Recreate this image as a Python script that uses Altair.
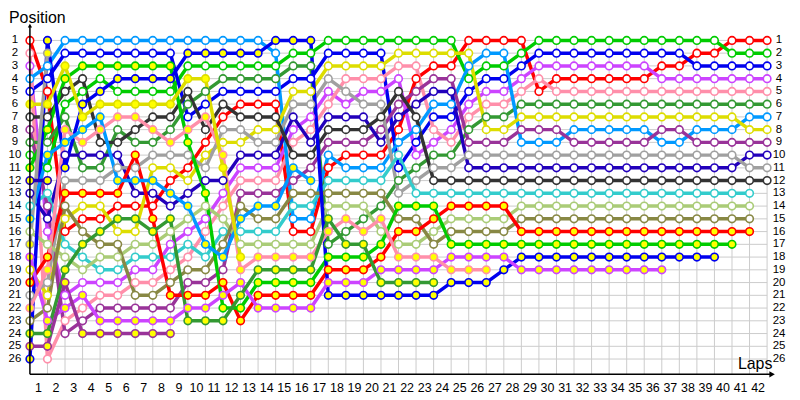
import altair as alt
import pandas as pd

# ---------------- data (position per lap, lap 0 = grid) ----------------
laps_axis = list(range(1, 43))
positions_axis = list(range(1, 27))

R = [1, 5, 16, 15, 15, 14, 14, 14, 12, 11, 9, 7, 6, 6, 6, 16, 16, 11, 10, 10, 10, 8, 4, 3, 3, 1, 1, 1, 1, 5, 4, 4, 4, 4, 4, 4, 3, 3, 2, 2, 1, 1, 1]
G = [10, 11, 6, 5, 4, 5, 5, 5, 5, 3, 3, 3, 3, 3, 3, 2, 2, 1, 1, 1, 1, 1, 1, 1, 1, 4, 3, 3, 2, 1, 1, 1, 1, 1, 1, 1, 1, 1, 1, 1, 2, 2, 2]
B = [5, 4, 2, 2, 2, 2, 2, 2, 2, 7, 6, 5, 5, 5, 5, 4, 4, 2, 2, 2, 2, 11, 9, 7, 7, 5, 4, 4, 3, 2, 2, 2, 2, 2, 2, 2, 2, 2, 3, 3, 3, 3, 3]
V = [3, 16, 21, 20, 20, 20, 19, 19, 17, 16, 15, 13, 11, 11, 11, 8, 7, 5, 6, 5, 5, 4, 10, 9, 8, 6, 5, 5, 4, 3, 3, 3, 3, 3, 3, 3, 4, 4, 4, 4, 4, 4, 4]
PK = [2, 26, 23, 22, 21, 21, 20, 20, 19, 18, 16, 14, 12, 12, 12, 9, 8, 6, 4, 4, 4, 3, 3, 8, 9, 7, 6, 6, 5, 4, 5, 5, 5, 5, 5, 5, 5, 5, 5, 5, 5, 5, 5]
DG = [9, 9, 7, 11, 11, 8, 9, 9, 8, 6, 5, 4, 4, 4, 4, 3, 3, 17, 16, 15, 14, 12, 11, 10, 10, 8, 7, 7, 6, 6, 6, 6, 6, 6, 6, 6, 6, 6, 6, 6, 6, 6, 6]
SB = [4, 3, 1, 1, 1, 1, 1, 1, 1, 1, 1, 1, 1, 1, 2, 15, 15, 10, 11, 11, 11, 9, 8, 6, 6, 3, 2, 2, 9, 9, 9, 8, 8, 8, 8, 8, 9, 9, 8, 8, 8, 7, 7]
Y = [19, 21, 15, 14, 14, 16, 16, 11, 11, 12, 10, 9, 9, 8, 8, 5, 5, 3, 3, 3, 3, 2, 2, 2, 2, 2, 8, 8, 7, 7, 7, 7, 7, 7, 7, 7, 7, 7, 7, 7, 7, 8, 8]
DP = [8, 14, 24, 23, 22, 22, 22, 22, 22, 20, 20, 19, 13, 13, 13, 12, 11, 9, 9, 9, 8, 6, 5, 4, 4, 9, 9, 9, 8, 8, 8, 9, 9, 9, 9, 9, 8, 8, 9, 9, 9, 9, 9]
N = [13, 15, 10, 10, 10, 10, 13, 13, 14, 13, 12, 12, 10, 10, 10, 7, 9, 7, 7, 7, 9, 7, 6, 5, 5, 11, 11, 11, 11, 11, 11, 11, 11, 11, 11, 11, 11, 11, 11, 11, 11, 10, 10]
GR = [21, 20, 12, 12, 12, 11, 11, 10, 10, 10, 11, 8, 8, 9, 9, 6, 6, 4, 5, 6, 6, 13, 12, 11, 11, 10, 10, 10, 10, 10, 10, 10, 10, 10, 10, 10, 10, 10, 10, 10, 10, 11, 11]
BK = [7, 7, 5, 4, 9, 9, 8, 7, 7, 5, 8, 6, 7, 7, 7, 10, 10, 8, 8, 8, 7, 5, 7, 12, 12, 12, 12, 12, 12, 12, 12, 12, 12, 12, 12, 12, 12, 12, 12, 12, 12, 12, 12]
C = [14, 13, 17, 18, 19, 19, 18, 18, 18, 17, 18, 16, 16, 16, 16, 14, 14, 12, 12, 12, 12, 10, 13, 13, 13, 13, 13, 13, 13, 13, 13, 13, 13, 13, 13, 13, 13, 13, 13, 13, 13, 13]
LO = [16, 17, 18, 19, 18, 18, 17, 17, 16, 15, 14, 15, 17, 17, 17, 17, 17, 14, 14, 14, 16, 17, 17, 16, 15, 15, 15, 15, 14, 14, 14, 14, 14, 14, 14, 14, 14, 14, 14, 14, 14, 14]
O = [23, 22, 14, 16, 17, 17, 21, 21, 20, 19, 19, 17, 14, 15, 15, 13, 13, 13, 13, 13, 13, 15, 15, 17, 16, 16, 16, 16, 15, 15, 15, 15, 15, 15, 15, 15, 15, 15, 15, 15, 15, 15]
r = [20, 18, 13, 13, 13, 13, 10, 15, 21, 21, 21, 20, 23, 21, 21, 21, 21, 19, 19, 19, 18, 16, 16, 15, 14, 14, 14, 14, 16, 16, 16, 16, 16, 16, 16, 16, 16, 16, 16, 16, 16, 16]
g = [11, 8, 4, 3, 3, 3, 3, 3, 3, 9, 13, 22, 22, 20, 20, 20, 20, 18, 18, 18, 17, 14, 14, 14, 17, 17, 17, 17, 17, 17, 17, 17, 17, 17, 17, 17, 17, 17, 17, 17, 17]
b = [26, 1, 11, 6, 5, 4, 4, 4, 4, 2, 2, 2, 2, 2, 1, 1, 1, 21, 21, 21, 21, 21, 21, 21, 20, 20, 20, 19, 18, 18, 18, 18, 18, 18, 18, 18, 18, 18, 18, 18]
v = [18, 23, 22, 21, 23, 23, 23, 23, 23, 22, 22, 21, 20, 22, 22, 22, 22, 20, 20, 20, 19, 19, 19, 19, 18, 18, 18, 18, 19, 19, 19, 19, 19, 19, 19, 19, 19]
pk = [22, 19, 8, 9, 8, 7, 7, 8, 9, 8, 7, 10, 19, 18, 18, 18, 18, 16, 15, 16, 15, 18, 18, 18, 19, 19, 19]
dg = [24, 24, 19, 17, 16, 15, 15, 16, 15, 23, 23, 23, 21, 19, 19, 19, 19, 15, 17, 17, 20, 20, 20, 20]
sb = [15, 10, 9, 8, 7, 12, 12, 12, 13, 14, 17, 18, 15, 14, 14, 11, 12]
y = [6, 6, 3, 7, 6, 6, 6, 6, 6, 4, 4, 11, 18]
dp = [25, 25, 20, 24, 24, 24, 24, 24, 24]
gr = [17, 2]
n = [12, 12]

series = {
    "R": R, "G": G, "B": B, "V": V, "PK": PK, "DG": DG, "SB": SB, "Y": Y,
    "DP": DP, "N": N, "GR": GR, "BK": BK, "C": C, "LO": LO, "O": O,
    "r": r, "g": g, "b": b, "v": v, "pk": pk, "dg": dg, "sb": sb, "y": y,
    "dp": dp, "gr": gr, "n": n,
}

# ---------------- styles ----------------
base_colors = {
    "R": "#FF0000", "G": "#00CC00", "B": "#0000EE", "V": "#CC44FF",
    "PK": "#FF8FAA", "DG": "#339933", "SB": "#0099FF", "Y": "#DDDD00",
    "DP": "#993399", "N": "#2200BB", "GR": "#A0A0A0", "BK": "#333333",
    "C": "#33CCCC", "LO": "#AACC77", "O": "#888844",
}
ids = list(series.keys())
colors = [base_colors[k.upper()] for k in ids]

rows = []
for k, vals in series.items():
    kind = "open" if k.isupper() else "yellow"
    for lap, pos in enumerate(vals):
        rows.append({"driver": k, "lap": lap, "pos": pos, "kind": kind})
df = pd.DataFrame(rows)

W, H = 740, 348
YMAX = 27.2
pos1_px = H / YMAX
FONT = "Liberation Sans"

xs = alt.Scale(domain=[0, 42], nice=False, zero=False)
ys = alt.Scale(domain=[0, YMAX], reverse=True, nice=False, zero=False)

one = pd.DataFrame({"a": [0]})

hgrid = alt.Chart(pd.DataFrame({"pos": positions_axis})).mark_rule(
    color="#CCCCCC", strokeWidth=1
).encode(y=alt.Y("pos:Q", scale=ys, axis=None), x=alt.value(0), x2=alt.value(W))

vgrid = alt.Chart(pd.DataFrame({"lap": laps_axis})).mark_rule(
    color="#CCCCCC", strokeWidth=1
).encode(x=alt.X("lap:Q", scale=xs, axis=None), y=alt.value(pos1_px), y2=alt.value(H))

lines = alt.Chart(df).mark_line(strokeWidth=3.5, strokeCap="round", strokeJoin="round").encode(
    x=alt.X("lap:Q", scale=xs, axis=None),
    y=alt.Y("pos:Q", scale=ys, axis=None),
    color=alt.Color("driver:N", scale=alt.Scale(domain=ids, range=colors), legend=None),
    detail="driver:N",
)

points = alt.Chart(df).mark_point(
    shape="circle", filled=True, size=58, strokeWidth=1.6, opacity=1
).encode(
    x=alt.X("lap:Q", scale=xs, axis=None),
    y=alt.Y("pos:Q", scale=ys, axis=None),
    stroke=alt.Stroke("driver:N", scale=alt.Scale(domain=ids, range=colors), legend=None),
    fill=alt.Fill("kind:N", scale=alt.Scale(domain=["open", "yellow"], range=["#FFFFFF", "#FFFF00"]), legend=None),
)

yaxis_line = alt.Chart(one).mark_rule(color="black", strokeWidth=1.5).encode(
    x=alt.value(0), y=alt.value(-2), y2=alt.value(H)
)
xaxis_line = alt.Chart(one).mark_rule(color="black", strokeWidth=1.5).encode(
    y=alt.value(H), x=alt.value(0), x2=alt.value(744)
)
yarrow = alt.Chart(one).mark_point(shape="triangle-up", filled=True, color="black", size=18, opacity=1).encode(
    x=alt.value(0), y=alt.value(-2)
)
xarrow = alt.Chart(one).mark_point(shape="triangle-right", filled=True, color="black", size=40, opacity=1).encode(
    x=alt.value(745), y=alt.value(H)
)

left_labels = alt.Chart(pd.DataFrame({"pos": positions_axis})).mark_text(
    align="center", baseline="middle", font=FONT, fontSize=11.5, color="black"
).encode(y=alt.Y("pos:Q", scale=ys, axis=None), x=alt.value(-15), text="pos:Q")

right_labels = alt.Chart(pd.DataFrame({"pos": positions_axis})).mark_text(
    align="center", baseline="middle", font=FONT, fontSize=11.5, color="black"
).encode(y=alt.Y("pos:Q", scale=ys, axis=None), x=alt.value(752), text="pos:Q")

bottom_labels = alt.Chart(pd.DataFrame({"lap": laps_axis})).mark_text(
    align="center", baseline="middle", dx=-9, font=FONT, fontSize=12.5, color="black"
).encode(x=alt.X("lap:Q", scale=xs, axis=None), y=alt.value(H + 14), text="lap:Q")

pos_title = alt.Chart(one).mark_text(
    text="Position", align="left", baseline="alphabetic", font=FONT, fontSize=16, color="black"
).encode(x=alt.value(-21), y=alt.value(-5))

laps_title = alt.Chart(one).mark_text(
    text="Laps", align="center", baseline="alphabetic", font=FONT, fontSize=16, color="black"
).encode(x=alt.value(728), y=alt.value(H - 5))

chart = alt.layer(
    hgrid, vgrid, lines, points, yaxis_line, xaxis_line, yarrow, xarrow,
    left_labels, right_labels, bottom_labels, pos_title, laps_title,
).properties(
    width=W, height=H,
    padding={"left": 22, "top": 19, "right": 25, "bottom": 20},
    autosize=alt.AutoSizeParams(type="none"),
).configure_view(strokeWidth=0)

chart.save("out.html", embed_options={"renderer": "svg", "actions": False})
